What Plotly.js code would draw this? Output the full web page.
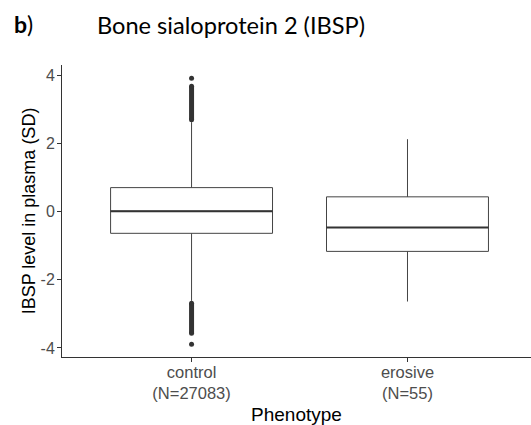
<!DOCTYPE html>
<html>
<head>
<meta charset="utf-8">
<script src="https://cdn.plot.ly/plotly-3.0.1.min.js"></script>
<style>html,body{margin:0;padding:0;background:#fff;}#chart{width:531px;height:425px;}</style>
</head>
<body>
<div id="chart"></div>
<script>
// ---- data ----
const categories = ['control', 'erosive'];
const sampleSizes = [27083, 55];
const q1Values = [-0.64, -1.17];
const medianValues = [0.01, -0.47];
const q3Values = [0.70, 0.43];
const lowerWhisker = [-2.62, -2.64];
const upperWhisker = [2.62, 2.12];
// control outliers: dense runs (start, end) and isolated extremes
const controlHighRun = [2.69, 3.67];
const controlHighExtreme = [3.91];
const controlLowRun = [-2.69, -3.57];
const controlLowExtreme = [-3.89];
const yTicks = [-4, -2, 0, 2, 4];
const yTickLabels = ['-4', '-2', '0', '2', '4'];

const ink = '#333333';
const axisFont = 'Arial, Liberation Sans, Helvetica, sans-serif';
const titleFont = 'Lato, Open Sans, sans-serif';
const boxWidth = 0.75;
const traces = [];

categories.forEach((cat, i) => {
  traces.push({
    type: 'box',
    x: [i],
    q1: [q1Values[i]],
    median: [medianValues[i]],
    q3: [q3Values[i]],
    lowerfence: [lowerWhisker[i]],
    upperfence: [upperWhisker[i]],
    width: boxWidth,
    whiskerwidth: 0,
    boxpoints: false,
    fillcolor: '#ffffff',
    line: {color: '#444444', width: 1},
    showlegend: false,
    hoverinfo: 'skip'
  });
  // thicker median line (ggplot fatten)
  traces.push({
    type: 'scatter', mode: 'lines',
    x: [i - boxWidth / 2, i + boxWidth / 2],
    y: [medianValues[i], medianValues[i]],
    line: {color: ink, width: 2},
    showlegend: false, hoverinfo: 'skip'
  });
});

// control outliers
const outlierY = [
  ...controlHighRun, null, ...controlHighExtreme, null,
  ...controlLowRun, null, ...controlLowExtreme
];
traces.push({
  type: 'scatter', mode: 'lines+markers',
  x: outlierY.map(v => v === null ? null : 0),
  y: outlierY,
  connectgaps: false,
  line: {color: ink, width: 5},
  marker: {color: ink, size: 5},
  showlegend: false, hoverinfo: 'skip'
});

const tickText = categories.map((c, i) => c + '<br>(N=' + sampleSizes[i] + ')');

const layout = {
  width: 531, height: 425,
  margin: {l: 62, r: 0, t: 65, b: 68},
  paper_bgcolor: '#ffffff', plot_bgcolor: '#ffffff',
  font: {family: axisFont, color: '#4d4d4d'},
  showlegend: false,
  title: {
    text: 'Bone sialoprotein 2 (IBSP)',
    font: {family: titleFont, size: 23.6, color: '#000000'},
    x: 97 / 531, xanchor: 'left', xref: 'container',
    y: 1 - 26 / 425, yanchor: 'middle', yref: 'container'
  },
  annotations: [{
    text: '<b>b</b>)', xref: 'paper', yref: 'paper', showarrow: false,
    x: -50 / 469, y: 1 + 41 / 292, xanchor: 'left', yanchor: 'middle',
    font: {family: titleFont, size: 23, color: '#000000'}
  }],
  xaxis: {
    range: [-0.6, 1.572],
    tickvals: categories.map((c, i) => i),
    ticktext: tickText,
    showgrid: false, zeroline: false,
    showline: true, linecolor: ink, linewidth: 1,
    ticks: 'outside', ticklen: 4, tickcolor: ink, tickwidth: 1,
    ticklabelstandoff: -4,
    tickfont: {family: axisFont, size: 16.5, color: '#4d4d4d'},
    title: {text: 'Phenotype', font: {family: axisFont, size: 19, color: '#000000'}, standoff: 8}
  },
  yaxis: {
    range: [-4.267, 4.296],
    tickvals: yTicks,
    ticktext: yTickLabels,
    showgrid: false, zeroline: false,
    showline: true, linecolor: ink, linewidth: 1,
    ticks: 'outside', ticklen: 4, tickcolor: ink, tickwidth: 1,
    ticklabelstandoff: -1,
    tickfont: {family: axisFont, size: 16, color: '#4d4d4d'},
    title: {text: 'IBSP level in plasma (SD)', font: {family: axisFont, size: 18, color: '#000000'}, standoff: 0}
  }
};

Plotly.newPlot('chart', traces, layout, {displayModeBar: false, staticPlot: true});
</script>
</body>
</html>
